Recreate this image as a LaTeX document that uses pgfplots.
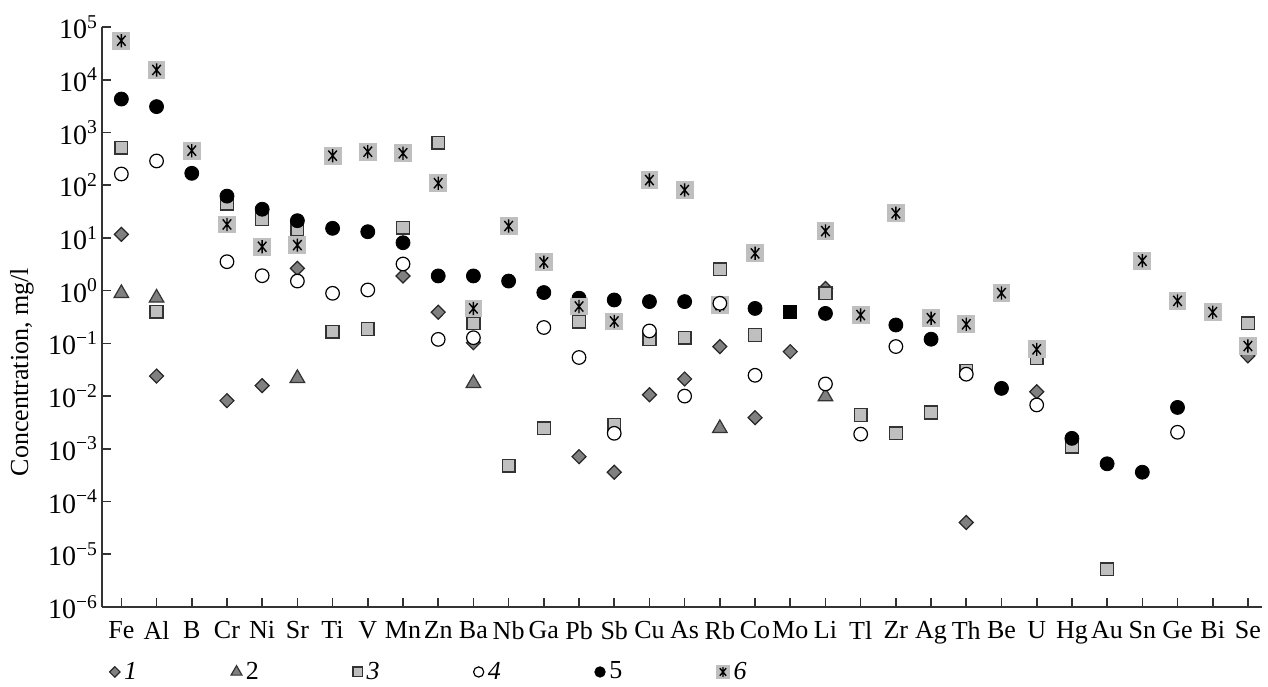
\documentclass[border=0pt]{standalone}
\usepackage{fontspec}
\setmainfont{Liberation Serif}
\usepackage{pgfplots}
\pgfplotsset{compat=1.18}

% grey square with an asterisk on it (series 6)
\pgfdeclareplotmark{sqast}{%
  \pgfpathrectangle{\pgfqpoint{-1.35\pgfplotmarksize}{-1.35\pgfplotmarksize}}{\pgfqpoint{2.7\pgfplotmarksize}{2.7\pgfplotmarksize}}%
  \pgfusepathqfill
  \pgfpathmoveto{\pgfqpoint{0pt}{-\pgfplotmarksize}}\pgfpathlineto{\pgfqpoint{0pt}{\pgfplotmarksize}}%
  \pgfpathmoveto{\pgfqpointpolar{50}{-\pgfplotmarksize}}\pgfpathlineto{\pgfqpointpolar{50}{\pgfplotmarksize}}%
  \pgfpathmoveto{\pgfqpointpolar{-50}{\pgfplotmarksize}}\pgfpathlineto{\pgfqpointpolar{-50}{-\pgfplotmarksize}}%
  \pgfusepathqstroke
}

\begin{document}
\begin{tikzpicture}[font=\fontsize{13}{15}\selectfont]
\begin{axis}[
  name=ax,
  width=580pt, height=290pt, scale only axis,
  ymode=log, ymin=1e-6, ymax=1e5,
  xmin=-0.55, xmax=32.4,
  axis x line*=bottom, axis y line*=left,
  axis line style={-, line width=0.8pt, black!80},
  tick style={line width=0.8pt, black!80},
  major tick length=4.5pt,
  yminorticks=false,
  ytick={1e-6,1e-5,1e-4,1e-3,1e-2,1e-1,1,1e1,1e2,1e3,1e4,1e5},
  yticklabels={10\textsuperscript{−6},10\textsuperscript{−5},10\textsuperscript{−4},10\textsuperscript{−3},10\textsuperscript{−2},10\textsuperscript{−1},10\textsuperscript{0},10\textsuperscript{1},10\textsuperscript{2},10\textsuperscript{3},10\textsuperscript{4},10\textsuperscript{5}},
  yticklabel style={xshift=1.5pt, font=\fontsize{14}{16}\selectfont},
  xtick={0,...,32},
  xticklabels={Fe,Al,B,Cr,Ni,Sr,Ti,V,Mn,Zn,Ba,Nb,Ga,Pb,Sb,Cu,As,Rb,Co,Mo,Li,Tl,Zr,Ag,Th,Be,U,Hg,Au,Sn,Ge,Bi,Se},
  xticklabel style={yshift=-3.5pt},
  ylabel={Concentration, mg/l},
  ylabel style={at={(axis description cs:-0.069,0.405)}, anchor=center},
  legend columns=6,
  legend style={draw=none, fill=none, inner sep=0pt,
    at={(axis description cs:0,-0.112)}, anchor=west, xshift=3.6pt,
    /tikz/every even column/.append style={column sep=45pt}},
  legend image code/.code={\draw[mark repeat=2,mark phase=2,/tikz/every mark/.append style={scale=0.75}]
    plot coordinates {(0cm,0cm)(0.15cm,0cm)(0.3cm,0cm)};},
]
% 1
\addplot[only marks, mark=diamond*, mark size=3.5pt,
  mark options={fill=gray, draw=black!85, line width=0.6pt, xscale=1.33}]
  coordinates {(0,11.7) (1,0.024) (3,0.0082) (4,0.0158) (5,2.65) (8,1.9) (9,0.39)
  (10,0.103) (13,7.1e-4) (14,3.6e-4) (15,0.0106) (16,0.0211) (17,0.087) (18,0.0039)
  (19,0.0697) (20,1.1) (24,4.0e-5) (26,0.0121) (32,0.058)};
% 2
\addplot[only marks, mark=triangle*, mark size=4.2pt,
  mark options={fill=gray, draw=black!80, line width=0.6pt}]
  coordinates {(0,0.89) (1,0.73) (5,0.0218) (10,0.0175) (17,0.00245) (20,0.0098)};
% 3
\addplot[only marks, mark=square*, mark size=3.2pt,
  mark options={fill=lightgray, draw=black!80, line width=0.7pt}]
  coordinates {(0,515) (1,0.40) (3,45) (4,22.5) (5,14.6) (6,0.167) (7,0.187) (8,15.6)
  (9,640) (10,0.24) (11,4.8e-4) (12,0.00245) (13,0.26) (14,0.00283) (15,0.119)
  (16,0.128) (17,2.54) (18,0.144) (20,0.89) (21,0.0044) (22,0.00197) (23,0.0049)
  (24,0.030) (26,0.052) (27,0.0011) (28,5.2e-6) (32,0.24)};
% 4
\addplot[only marks, mark=*, mark size=3.4pt,
  mark options={fill=white, draw=black, line width=0.6pt}]
  coordinates {(0,163) (1,288) (3,3.54) (4,1.92) (5,1.52) (6,0.89) (7,1.03) (8,3.2)
  (9,0.119) (10,0.128) (12,0.20) (13,0.054) (14,0.00197) (15,0.172) (16,0.010)
  (17,0.575) (18,0.0248) (20,0.017) (21,0.0019) (22,0.087) (24,0.026) (26,0.0068)
  (30,0.00206)};
% 5
\addplot[only marks, mark=*, mark size=3.5pt, mark options={fill=black, draw=black}]
  coordinates {(0,4300) (1,3090) (2,168) (3,62) (4,35) (5,21.2) (6,15.2) (7,13.1)
  (8,8.1) (9,1.9) (10,1.9) (11,1.52) (12,0.92) (13,0.72) (14,0.665) (15,0.62)
  (16,0.62) (18,0.46) (20,0.37) (22,0.223) (23,0.12) (25,0.014) (27,0.00158)
  (28,5.2e-4) (29,3.6e-4) (30,0.0061)};
% 6
\addplot[only marks, mark=sqast, mark size=3.3pt,
  mark options={fill=lightgray, draw=black, line width=0.7pt}]
  coordinates {(0,5.5e4) (1,1.53e4) (2,451) (3,18) (4,6.8) (5,7.3) (6,363) (7,431)
  (8,403) (9,109) (10,0.46) (11,16.8) (12,3.44) (13,0.50) (14,0.26) (15,125) (16,81)
  (17,0.53) (18,5.1) (20,13.5) (21,0.345) (22,29.3) (23,0.30) (24,0.23) (25,0.90)
  (26,0.077) (29,3.7) (30,0.64) (31,0.39) (32,0.089)};
% open circles lie on top of the grey squares (Rb)
\addplot[only marks, mark=*, mark size=3.4pt, forget plot,
  mark options={fill=white, draw=black, line width=0.6pt}]
  coordinates {(17,0.575)};
% Mo: black square
\addplot[only marks, mark=square*, mark size=3.2pt, forget plot,
  mark options={fill=black, draw=black}]
  coordinates {(19,0.40)};
\legend{\textit{1}, 2, \textit{3}, \textit{4}, 5, \textit{6}}
\end{axis}
\pgfresetboundingbox
\path[use as bounding box] ([xshift=-51pt,yshift=-39.5pt]ax.south west) rectangle ([xshift=3pt,yshift=13.5pt]ax.north east);
\end{tikzpicture}
\end{document}
